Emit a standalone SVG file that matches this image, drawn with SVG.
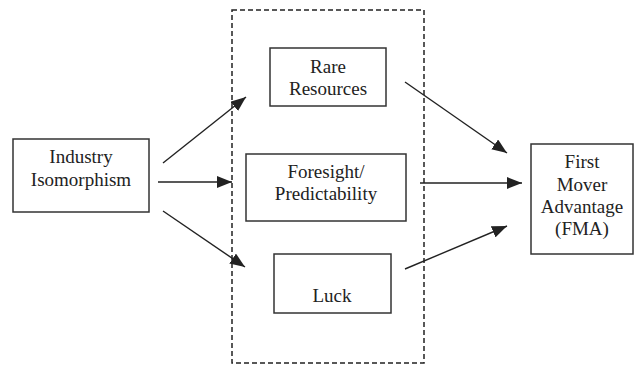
<svg xmlns="http://www.w3.org/2000/svg" width="636" height="365" viewBox="0 0 636 365">
<style>
.box{fill:#fff;stroke:#333;stroke-width:1.5}
.t{font-family:'Liberation Serif','Times New Roman','DejaVu Serif',serif;font-size:19px;fill:#222;text-anchor:middle}
.c{stroke:#222;stroke-width:1.4;fill:none;marker-end:url(#ah)}
</style>
<defs>
<marker id="ah" markerUnits="userSpaceOnUse" markerWidth="16" markerHeight="12" refX="15" refY="6" orient="auto">
<path d="M0,0 L15,6 L0,12 Z" fill="#222"/>
</marker>
</defs>
<rect width="636" height="365" fill="#fff"/>
<g id="group-box">
<rect x="232" y="10" width="192" height="353" fill="none" stroke="#222" stroke-width="1.5" stroke-dasharray="5,3"/>
</g>
<g id="connectors">
<line class="c" x1="163" y1="163" x2="246" y2="97"/>
<line class="c" x1="158" y1="182" x2="232" y2="182"/>
<line class="c" x1="163" y1="211" x2="245" y2="267"/>
<line class="c" x1="405" y1="82" x2="507" y2="153"/>
<line class="c" x1="420" y1="183" x2="522" y2="183"/>
<line class="c" x1="405" y1="269" x2="507" y2="226"/>
</g>
<g id="industry">
<rect class="box" x="13" y="139" width="136" height="73"/>
<text class="t" x="81" y="163" font-family="Liberation Serif, serif">Industry</text>
<text class="t" x="81" y="186" font-family="Liberation Serif, serif">Isomorphism</text>
</g>
<g id="rare">
<rect class="box" x="270" y="48" width="116" height="58"/>
<text class="t" x="328" y="73">Rare</text>
<text class="t" x="328" y="95">Resources</text>
</g>
<g id="foresight">
<rect class="box" x="246" y="154" width="160" height="67"/>
<text class="t" x="326" y="178">Foresight/</text>
<text class="t" x="326" y="200">Predictability</text>
</g>
<g id="luck">
<rect class="box" x="274" y="254" width="117" height="59"/>
<text class="t" x="332" y="302">Luck</text>
</g>
<g id="fma">
<rect class="box" x="531" y="144" width="102" height="110"/>
<text class="t" x="582" y="168">First</text>
<text class="t" x="582" y="191">Mover</text>
<text class="t" x="582" y="213">Advantage</text>
<text class="t" x="582" y="235">(FMA)</text>
</g>
</svg>
